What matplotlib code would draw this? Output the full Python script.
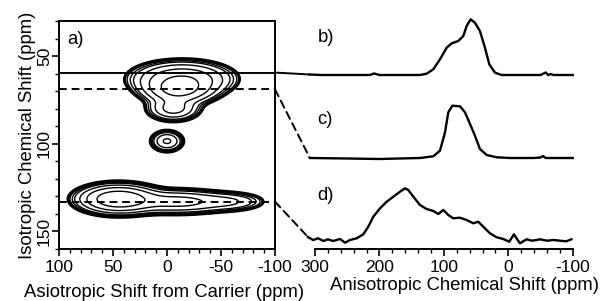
"""2D isotropic/anisotropic shift correlation with extracted slices."""
import matplotlib
matplotlib.use("Agg")
import matplotlib.pyplot as plt
import numpy as np
from matplotlib.patches import ConnectionPatch
from matplotlib.ticker import MultipleLocator

plt.rcParams["font.family"] = ["Liberation Sans", "DejaVu Sans"]
plt.rcParams["axes.unicode_minus"] = False

# --- 2D spectrum peaks (centre aniso ppm, centre iso ppm, width x, width y, amplitude)
peak_x = [-14, -11, -6, 0, 45, -10, -60]
peak_y = [63, 69.5, 80, 98.5, 131.5, 133, 133]
peak_sx = [23, 16, 12, 7.5, 18, 25, 18]
peak_sy = [5, 4, 3.5, 3, 4, 3.5, 3]
peak_amp = [0.5, 0.6, 0.35, 0.3, 1.0, 0.35, 0.12]
levels = [0.035, 0.045, 0.06, 0.08, 0.14, 0.27, 0.55]

# slice positions (isotropic shift, ppm)
slice_iso = [59.4, 69, 133]
slice_style = ["-", (0, (4, 2.5)), (0, (4, 2.5))]

# --- 1D slices (anisotropic shift ppm, intensity)
b_ppm = [308, 290, 260, 215, 208, 200, 170, 137, 126.7, 116.4, 106, 95.6, 87.8, 77.6,
         69.8, 64.6, 58.4, 51.7, 44, 36.2, 29.5, 20.6, 10.3, 0, -50, -58, -62, -66, -70,
         -80, -100]
b_amp = [0.5, 0, 0, 0, 1.5, 0, 0, 0, 1.3, 5.7, 15.7, 27.3, 31.7, 34,
         39, 49, 55.7, 52.3, 44, 27.3, 10.7, 2.3, 0, 0, 0, 2.5, 0, 1, 0,
         0, 0]

c_ppm = [308, 250, 200, 137, 116.4, 106, 98.2, 93.1, 86.9, 75, 67.2, 59.4, 51.7, 44,
         33.5, 18, -2.6, -40, -50, -54, -58, -70, -100]
c_amp = [0, -0.5, -1, 0, 1.7, 7.3, 25.7, 45.7, 52.3, 51.7, 45.7, 34, 22.3, 9,
         3, 0.7, 0, 0, 0.5, 2, 0, 0, 0]

d_ppm = [311, 303, 295, 287, 280, 272, 261, 253.4, 245.7, 235.3, 225, 217.3, 209.5,
         199, 188.7, 178.4, 168, 160.3, 155.2, 147.4, 137, 126.7, 116.4, 108.6, 100.9,
         93.1, 85.4, 75, 64.6, 54.3, 46.6, 38.8, 28.4, 18, 7.8, -1.5, -8.8, -18, -28.5,
         -36.3, -44, -49, -60, -70, -80, -90, -98]
d_amp = [3, 0, 1.7, -1, 0.7, -1, 1, -2.7, 0, 1.7, 5.7, 13.3, 23.3,
         31.7, 38.3, 43.3, 48.3, 51.7, 50, 43.3, 35, 31, 29, 26, 30,
         25, 21.7, 22.3, 20, 16.7, 18.3, 13.3, 6.7, 2.7, 1, -1.7, 5.7, -3.3, 0.7,
         -0.7, 0, 0.7, -0.7, 0, -0.7, -1.3, 0.7]

slice_ppm = [b_ppm, c_ppm, d_ppm]
slice_amp = [b_amp, c_amp, d_amp]
slice_offset = [174, 91, 9]
slice_label = ["b)", "c)", "d)"]
label_y = [212, 130, 53]

fig = plt.figure(figsize=(6.0, 3.01), dpi=100)
ax = fig.add_axes([59 / 600, 52 / 301, 216 / 600, 228 / 301])
ax2 = fig.add_axes([315 / 600, 52 / 301, 257.7 / 600, 233 / 301])

# left panel: contour map
gx = np.linspace(105, -105, 421)
gy = np.linspace(25, 165, 281)
X, Y = np.meshgrid(gx, gy)
Z = np.zeros_like(X)
for x0, y0, sx, sy, a in zip(peak_x, peak_y, peak_sx, peak_sy, peak_amp):
    Z += a * np.exp(-((X - x0) ** 2 / (2 * sx**2) + (Y - y0) ** 2 / (2 * sy**2)))
lw = [2.2, 1.0, 1.0, 1.0, 1.0, 1.0, 1.0]
ax.contour(X, Y, Z, levels=levels, colors="black", linewidths=lw)

for yv, ls in zip(slice_iso, slice_style):
    ax.axhline(yv, color="black", lw=1.4, linestyle=ls)

ax.set_xlim(100, -100)
ax.set_ylim(160, 30)
ax.xaxis.set_major_locator(MultipleLocator(50))
ax.xaxis.set_minor_locator(MultipleLocator(10))
ax.yaxis.set_major_locator(MultipleLocator(50))
ax.yaxis.set_minor_locator(MultipleLocator(10))
ax.tick_params(which="major", length=5, width=1.2)
ax.tick_params(which="minor", length=3, width=1.0)
ax.tick_params(axis="x", labelsize=12.5, pad=3)
ax.tick_params(axis="y", labelsize=12.5, pad=0)
for lab in ax.get_yticklabels():
    lab.set_rotation(90)
    lab.set_va("center")
for s in ax.spines.values():
    s.set_linewidth(1.4)
ax.set_xlabel("Asiotropic Shift from Carrier (ppm)", fontsize=13.3, va="center")
ax.xaxis.set_label_coords(0.486, -0.189)
ax.set_ylabel("Isotropic Chemical Shift (ppm)", fontsize=13.3, labelpad=1)
ax.text(0.04, 0.92, "a)", transform=ax.transAxes, fontsize=13.3, va="center")

# right panel: slices
for xs, ys, off, lab, ly in zip(slice_ppm, slice_amp, slice_offset, slice_label, label_y):
    ax2.plot(xs, np.array(ys) + off, color="black", lw=1.7, clip_on=False,
             solid_joinstyle="round")
    ax2.text(296, ly, lab, fontsize=13.3, va="center")

ax2.set_xlim(300, -100)
ax2.set_ylim(0, 233)
ax2.xaxis.set_major_locator(MultipleLocator(100))
ax2.xaxis.set_minor_locator(MultipleLocator(20))
ax2.tick_params(which="major", length=5, width=1.2)
ax2.tick_params(which="minor", length=3, width=1.0)
ax2.tick_params(axis="x", labelsize=12.5, pad=3)
ax2.set_yticks([])
for side in ["left", "top", "right"]:
    ax2.spines[side].set_visible(False)
ax2.spines["bottom"].set_linewidth(1.4)
ax2.set_xlabel("Anisotropic Chemical Shift (ppm)", fontsize=13.3, va="center")
ax2.xaxis.set_label_coords(0.58, -0.155)

# connectors from slice lines to the 1D traces
for yv, ls, xs, ys, off in zip(slice_iso, slice_style, slice_ppm, slice_amp, slice_offset):
    con = ConnectionPatch(xyA=(-100, yv), coordsA=ax.transData,
                          xyB=(xs[0], ys[0] + off), coordsB=ax2.transData,
                          color="black", lw=1.4, linestyle=ls)
    fig.add_artist(con)

plt.savefig("out.png", dpi=100)
